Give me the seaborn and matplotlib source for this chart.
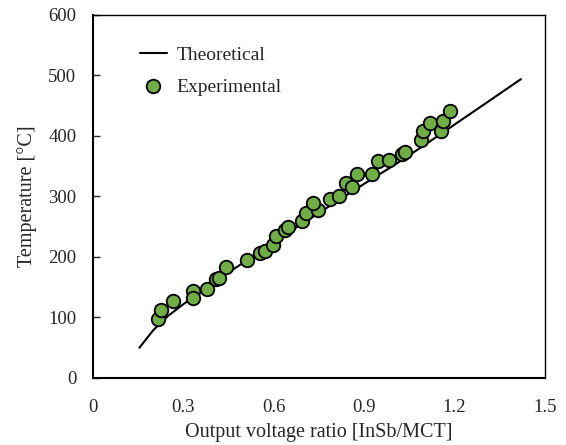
import seaborn as sns
import pandas as pd
import matplotlib.pyplot as plt

sns.set_style("white")
plt.rcParams['font.family'] = ['Liberation Serif', 'DejaVu Serif']

# theoretical curve
theory_x = [0.154, 0.2, 0.25, 0.3, 0.4, 0.5, 0.6, 0.7, 0.8, 0.9, 1.0, 1.1, 1.2, 1.3, 1.42]
theory_y = [50, 79, 103, 122, 158, 191, 224, 257, 289, 321, 352, 385, 419, 453, 494]

# experimental points
exp_x = [0.217, 0.225, 0.266, 0.333, 0.333, 0.379, 0.408, 0.417, 0.440, 0.510,
         0.554, 0.571, 0.598, 0.606, 0.637, 0.648, 0.695, 0.707, 0.746, 0.731,
         0.787, 0.816, 0.840, 0.859, 0.875, 0.927, 0.945, 0.982, 1.024, 1.035,
         1.088, 1.094, 1.118, 1.155, 1.161, 1.185]
exp_y = [97, 112, 128, 143, 133, 147, 163, 166, 184, 195,
         207, 210, 220, 234, 245, 250, 260, 273, 278, 290,
         296, 300, 322, 316, 338, 338, 359, 361, 370, 374,
         393, 408, 422, 409, 425, 442]

theory = pd.DataFrame({"ratio": theory_x, "temp": theory_y})
exp = pd.DataFrame({"ratio": exp_x, "temp": exp_y})

fig = plt.figure(figsize=(5.66, 4.45), dpi=100)
ax = fig.add_axes([0.1643, 0.1506, 0.7987, 0.8157])

sns.lineplot(data=theory, x="ratio", y="temp", color="black", linewidth=1.5,
             label="Theoretical", ax=ax)
sns.scatterplot(data=exp, x="ratio", y="temp", color="#70AD47", edgecolor="black",
                linewidth=1.3, s=95, label="Experimental", ax=ax, zorder=3)

ax.set_xlim(0, 1.5)
ax.set_ylim(0, 600)
ax.set_xticks([0, 0.3, 0.6, 0.9, 1.2, 1.5])
ax.set_xticklabels(["0", "0.3", "0.6", "0.9", "1.2", "1.5"])
ax.set_yticks(range(0, 700, 100))
ax.tick_params(axis="x", length=0, pad=15, labelsize=13.5)
ax.tick_params(axis="y", direction="in", length=5, width=1, pad=12, labelsize=13.5, left=True)
ax.set_xlabel("Output voltage ratio [InSb/MCT]", fontsize=14.5, labelpad=5)
ax.set_ylabel("Temperature [°C]", fontsize=14.5, labelpad=8)

for side in ["left", "bottom"]:
    ax.spines[side].set_linewidth(1.5)
    ax.spines[side].set_color("black")
for side in ["top", "right"]:
    ax.spines[side].set_linewidth(1.0)
    ax.spines[side].set_color("black")

ax.legend(loc="upper left", bbox_to_anchor=(0.065, 0.962), frameon=False, fontsize=14,
          handlelength=1.4, labelspacing=0.72, handletextpad=0.5)

plt.savefig("out.png", dpi=100)
